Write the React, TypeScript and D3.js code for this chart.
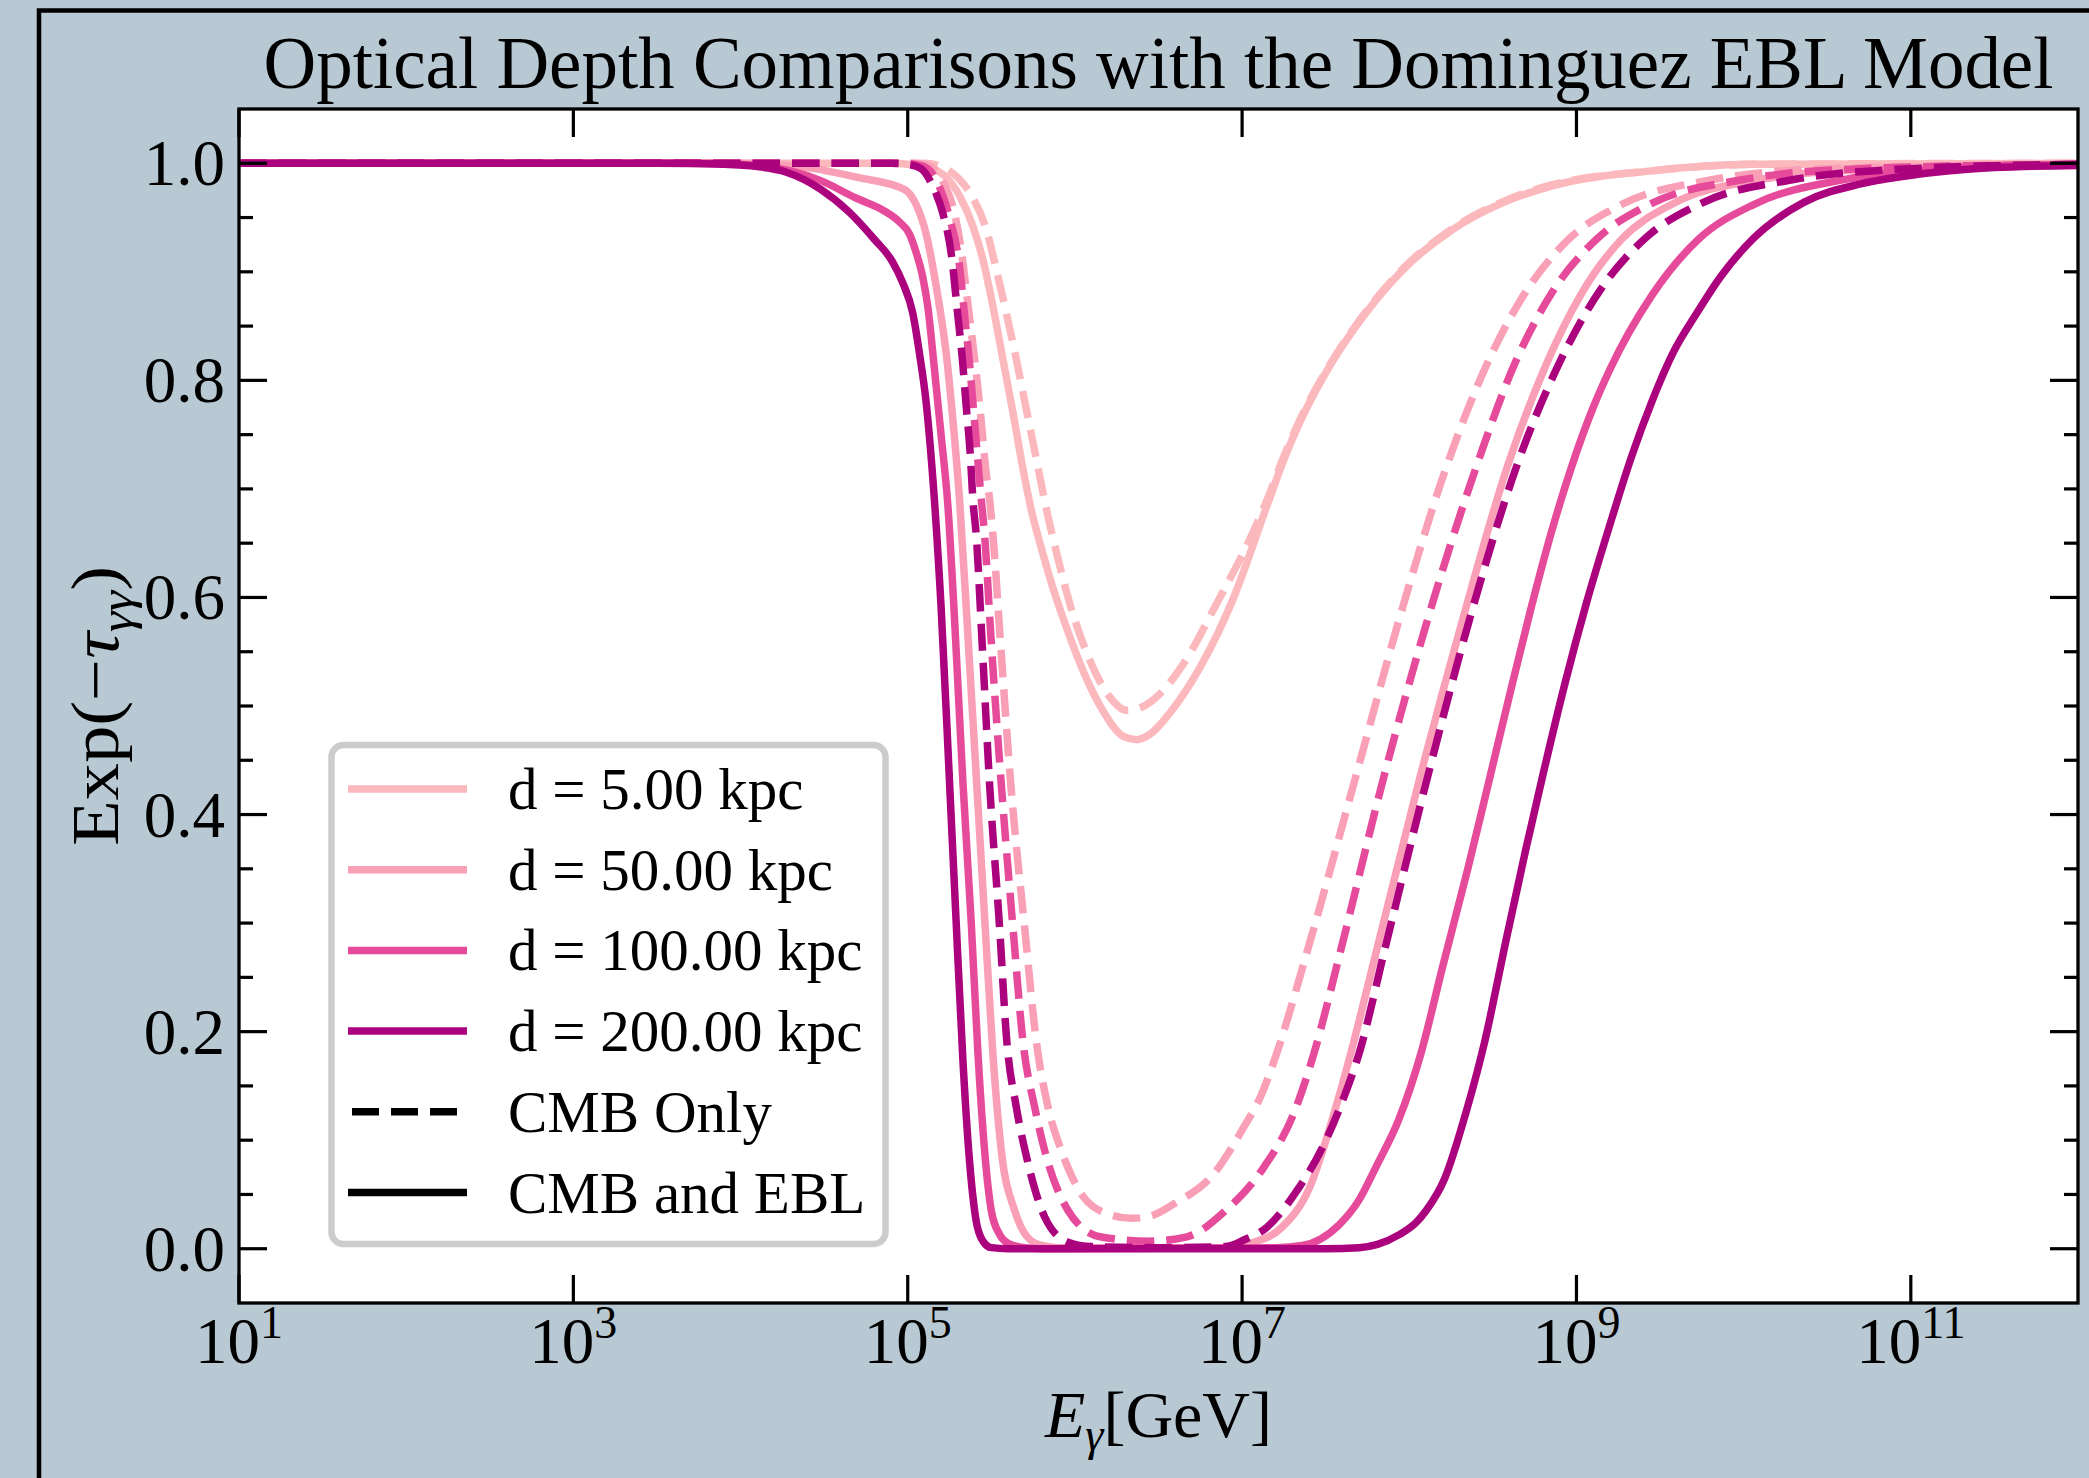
import * as d3 from 'd3';
import React, { useEffect, useRef } from 'react';

const distances = [5, 50, 100, 200];
const seriesColors = ["#fbb9be", "#f99fb6", "#e64b9b", "#ab027e"];

// [log10(E / GeV), exp(-tau)]: CMB + EBL (solid lines)
const eblD5 = [
    [1, 1], [4.9, 1], [5.05, 0.998], [5.15, 0.995], [5.23, 0.987], [5.31, 0.97], [5.39, 0.942],
    [5.45, 0.911], [5.51, 0.868], [5.57, 0.819], [5.63, 0.77], [5.69, 0.718], [5.74, 0.68],
    [5.8, 0.645], [5.85, 0.618], [5.95, 0.572], [6.05, 0.532], [6.17, 0.495], [6.29, 0.472],
    [6.37, 0.469], [6.45, 0.474], [6.57, 0.494], [6.75, 0.536], [6.95, 0.6], [7.15, 0.685],
    [7.25, 0.727], [7.35, 0.763], [7.5, 0.807], [7.65, 0.843], [7.95, 0.9], [8.25, 0.938],
    [8.55, 0.963], [8.85, 0.979], [9.45, 0.993], [10.05, 0.999], [12, 1]
];
const eblD50 = [
    [1, 1], [4.0, 1], [4.4, 0.996], [4.7, 0.987], [4.98, 0.976], [5.05, 0.962], [5.11, 0.935],
    [5.17, 0.887], [5.23, 0.825], [5.27, 0.764], [5.31, 0.69], [5.36, 0.565], [5.41, 0.435],
    [5.46, 0.305], [5.51, 0.178], [5.56, 0.09], [5.64, 0.035], [5.72, 0.01], [5.8, 0.003],
    [5.9, 0.001], [6.9, 0.001], [7.05, 0.005], [7.24, 0.02], [7.4, 0.055], [7.56, 0.13],
    [7.65, 0.18], [7.8, 0.272], [8.06, 0.432], [8.32, 0.58], [8.59, 0.722], [8.82, 0.815],
    [9.03, 0.88], [9.27, 0.93], [9.58, 0.963], [10.1, 0.985], [10.8, 0.995], [12, 0.999]
];
const eblD100 = [
    [1, 1], [3.8, 1], [4.1, 0.998], [4.3, 0.993], [4.48, 0.984], [4.69, 0.968], [4.85, 0.957],
    [4.95, 0.946], [5.01, 0.935], [5.05, 0.918], [5.09, 0.895], [5.12, 0.868], [5.16, 0.81],
    [5.2, 0.749], [5.24, 0.685], [5.28, 0.58], [5.33, 0.43], [5.38, 0.3], [5.42, 0.18],
    [5.46, 0.09], [5.5, 0.035], [5.55, 0.013], [5.6, 0.005], [5.7, 0.001], [5.8, 0],
    [7.2, 0.001], [7.36, 0.003], [7.47, 0.009], [7.58, 0.022], [7.7, 0.045], [7.8, 0.075],
    [7.94, 0.12], [8.07, 0.18], [8.2, 0.26], [8.35, 0.35], [8.46, 0.42], [8.6, 0.51],
    [8.72, 0.585], [8.85, 0.66], [8.97, 0.72], [9.1, 0.775], [9.2, 0.81], [9.45, 0.878],
    [9.73, 0.93], [10.06, 0.962], [10.6, 0.985], [11.2, 0.995], [12, 0.999]
];
const eblD200 = [
    [1, 1], [3.5, 1], [3.9, 0.999], [4.1, 0.997], [4.27, 0.992], [4.48, 0.976], [4.65, 0.955],
    [4.8, 0.93], [4.91, 0.909], [4.97, 0.89], [5.03, 0.862], [5.07, 0.825], [5.11, 0.78],
    [5.15, 0.71], [5.2, 0.59], [5.25, 0.43], [5.29, 0.3], [5.33, 0.174], [5.37, 0.08],
    [5.41, 0.025], [5.45, 0.007], [5.5, 0.001], [5.6, 0], [7.5, 0], [7.7, 0.001], [7.81, 0.004],
    [7.94, 0.013], [8.04, 0.024], [8.1, 0.035], [8.21, 0.064], [8.34, 0.126], [8.45, 0.19],
    [8.58, 0.285], [8.7, 0.37], [8.8, 0.437], [8.93, 0.52], [9.06, 0.595], [9.2, 0.667],
    [9.33, 0.73], [9.45, 0.78], [9.58, 0.826], [9.72, 0.862], [9.86, 0.895], [10.06, 0.931],
    [10.36, 0.964], [10.7, 0.981], [10.96, 0.988], [11.5, 0.996], [12, 0.998]
];

// CMB only (dashed lines)
const cmbD5 = [
    [1, 1], [5.1, 1], [5.2, 0.997], [5.25, 0.993], [5.31, 0.985], [5.39, 0.968], [5.47, 0.939],
    [5.53, 0.902], [5.59, 0.862], [5.65, 0.819], [5.71, 0.773], [5.77, 0.727], [5.83, 0.681],
    [5.9, 0.635], [5.97, 0.594], [6.09, 0.542], [6.21, 0.508], [6.31, 0.496], [6.4, 0.499],
    [6.5, 0.51], [6.65, 0.539], [6.85, 0.595], [7.05, 0.655], [7.15, 0.69], [7.25, 0.73],
    [7.35, 0.765], [7.5, 0.808], [7.65, 0.844], [7.95, 0.901], [8.25, 0.939], [8.55, 0.964],
    [8.85, 0.98], [9.45, 0.993], [10.05, 0.999], [12, 1]
];
const cmbD50 = [
    [1, 1], [5.0, 1], [5.1, 0.999], [5.17, 0.993], [5.22, 0.98], [5.27, 0.96], [5.32, 0.92],
    [5.36, 0.87], [5.4, 0.82], [5.435, 0.77], [5.465, 0.72], [5.49, 0.69], [5.51, 0.657],
    [5.555, 0.558], [5.617, 0.427], [5.7, 0.295], [5.77, 0.19], [5.84, 0.13], [5.92, 0.09],
    [6.05, 0.048], [6.2, 0.032], [6.34, 0.028], [6.45, 0.03], [6.6, 0.042], [6.83, 0.069],
    [7.01, 0.112], [7.11, 0.14], [7.18, 0.168], [7.41, 0.285], [7.68, 0.435], [7.94, 0.58],
    [8.21, 0.715], [8.45, 0.81], [8.67, 0.875], [8.94, 0.928], [9.27, 0.962], [9.82, 0.985],
    [10.5, 0.995], [12, 0.999]
];
const cmbD100 = [
    [1, 1], [4.95, 1], [5.05, 0.999], [5.12, 0.995], [5.17, 0.985], [5.21, 0.97], [5.25, 0.95],
    [5.31, 0.905], [5.34, 0.86], [5.37, 0.815], [5.395, 0.77], [5.42, 0.725], [5.44, 0.69],
    [5.46, 0.657], [5.5, 0.558], [5.56, 0.427], [5.63, 0.295], [5.69, 0.19], [5.76, 0.13],
    [5.82, 0.09], [5.96, 0.035], [6.15, 0.011], [6.44, 0.007], [6.67, 0.011], [6.9, 0.035],
    [7.13, 0.075], [7.31, 0.125], [7.43, 0.18], [7.59, 0.275], [7.84, 0.43], [8.12, 0.585],
    [8.4, 0.72], [8.63, 0.815], [8.85, 0.88], [9.12, 0.93], [9.45, 0.963], [10.0, 0.985],
    [10.7, 0.995], [12, 0.999]
];
const cmbD200 = [
    [1, 1], [4.9, 1], [5.0, 0.999], [5.08, 0.995], [5.13, 0.985], [5.17, 0.972], [5.21, 0.954],
    [5.266, 0.91], [5.296, 0.865], [5.326, 0.821], [5.35, 0.776], [5.374, 0.732], [5.39, 0.69],
    [5.41, 0.657], [5.445, 0.558], [5.49, 0.427], [5.55, 0.295], [5.59, 0.196], [5.65, 0.13],
    [5.71, 0.085], [5.82, 0.029], [5.96, 0.006], [6.1, 0.002], [6.5, 0.001], [6.9, 0.002],
    [7.01, 0.008], [7.15, 0.02], [7.33, 0.054], [7.47, 0.09], [7.61, 0.14], [7.7, 0.18],
    [7.86, 0.28], [8.11, 0.435], [8.37, 0.585], [8.64, 0.72], [8.91, 0.82], [9.15, 0.885],
    [9.42, 0.932], [9.76, 0.964], [10.3, 0.985], [11.0, 0.995], [12, 0.999]
];

const eblSeries = [eblD5, eblD50, eblD100, eblD200];
const cmbSeries = [cmbD5, cmbD50, cmbD100, cmbD200];

const xTickPowers = [1, 3, 5, 7, 9, 11];
const yTickValues = [0, 0.2, 0.4, 0.6, 0.8, 1.0];

const W = 2089;
const H = 1478;
const margin = { top: 109, right: 11, bottom: 175, left: 239 };
const serif = "'Liberation Serif', 'Times New Roman', serif";

const OpticalDepthChart = () => {
    const chartRef = useRef(null);

    useEffect(() => {
        const svg = d3.select(chartRef.current);
        svg.selectAll("*").remove();

        const width = W - margin.left - margin.right;
        const height = H - margin.top - margin.bottom;

        svg.append("rect").attr("width", W).attr("height", H).attr("fill", "#b9c9d3");

        // figure frame, cut off on the right and bottom
        svg.append("path")
            .attr("d", `M39,${H + 5} L39,10.5 L${W + 5},10.5`)
            .attr("fill", "none")
            .attr("stroke", "#000")
            .attr("stroke-width", 4.5);

        const g = svg.append("g").attr("transform", `translate(${margin.left},${margin.top})`);
        g.append("rect").attr("width", width).attr("height", height).attr("fill", "#fff");

        const x = d3.scaleLog().domain([1e1, 1e12]).range([0, width]);
        const y = d3.scaleLinear().domain([-0.05, 1.05]).range([height, 0]);

        g.append("clipPath").attr("id", "plot-clip")
            .append("rect").attr("width", width).attr("height", height);

        const line = d3.line()
            .x(d => x(Math.pow(10, d[0])))
            .y(d => y(d[1]))
            .curve(d3.curveMonotoneX);

        const curves = g.append("g").attr("clip-path", "url(#plot-clip)");
        distances.forEach((dist, i) => {
            curves.append("path")
                .datum(eblSeries[i])
                .attr("d", line)
                .attr("fill", "none")
                .attr("stroke", seriesColors[i])
                .attr("stroke-width", 7.5)
                .attr("stroke-linejoin", "round");
            curves.append("path")
                .datum(cmbSeries[i])
                .attr("d", line)
                .attr("fill", "none")
                .attr("stroke", seriesColors[i])
                .attr("stroke-width", 7.5)
                .attr("stroke-linejoin", "round")
                .attr("stroke-dasharray", "27.5,12");
        });

        // ticks point inward on all four sides
        const majorLen = 28;
        const minorLen = 14;
        const tickW = 3.2;
        const ticks = g.append("g").attr("stroke", "#000").attr("stroke-width", tickW);
        xTickPowers.forEach(p => {
            const tx = x(Math.pow(10, p));
            ticks.append("line").attr("x1", tx).attr("x2", tx).attr("y1", height).attr("y2", height - majorLen);
            ticks.append("line").attr("x1", tx).attr("x2", tx).attr("y1", 0).attr("y2", majorLen);
        });
        const yMinor = d3.range(1, 21).map(k => k * 0.05).filter(v => Math.abs(v * 5 - Math.round(v * 5)) > 1e-6);
        yTickValues.forEach(v => {
            ticks.append("line").attr("x1", 0).attr("x2", majorLen).attr("y1", y(v)).attr("y2", y(v));
            ticks.append("line").attr("x1", width).attr("x2", width - majorLen).attr("y1", y(v)).attr("y2", y(v));
        });
        yMinor.forEach(v => {
            ticks.append("line").attr("x1", 0).attr("x2", minorLen).attr("y1", y(v)).attr("y2", y(v));
            ticks.append("line").attr("x1", width).attr("x2", width - minorLen).attr("y1", y(v)).attr("y2", y(v));
        });

        g.append("rect")
            .attr("width", width)
            .attr("height", height)
            .attr("fill", "none")
            .attr("stroke", "#000")
            .attr("stroke-width", 3.3);

        // tick labels
        g.selectAll("text.ylab")
            .data(yTickValues)
            .join("text")
            .attr("class", "ylab")
            .attr("x", -14)
            .attr("y", d => y(d) + 22)
            .attr("text-anchor", "end")
            .attr("font-family", serif)
            .attr("font-size", 65)
            .text(d => d.toFixed(1));

        const xl = g.selectAll("text.xlab")
            .data(xTickPowers)
            .join("text")
            .attr("class", "xlab")
            .attr("x", d => x(Math.pow(10, d)))
            .attr("y", height + 60)
            .attr("text-anchor", "middle")
            .attr("font-family", serif)
            .attr("font-size", 65);
        xl.append("tspan").text("10");
        xl.append("tspan").attr("font-size", 46).attr("dy", -25).text(d => d);

        // title
        svg.append("text")
            .attr("x", margin.left + width / 2)
            .attr("y", 88)
            .attr("text-anchor", "middle")
            .attr("font-family", serif)
            .attr("font-size", 73)
            .attr("textLength", 1790)
            .attr("lengthAdjust", "spacingAndGlyphs")
            .text("Optical Depth Comparisons with the Dominguez EBL Model");

        // x label
        const xlabel = svg.append("text")
            .attr("x", margin.left + width / 2)
            .attr("y", 1437)
            .attr("text-anchor", "middle")
            .attr("font-family", serif)
            .attr("font-size", 66);
        xlabel.append("tspan").attr("font-style", "italic").text("E");
        xlabel.append("tspan").attr("font-style", "italic").attr("font-size", 46).attr("dy", 13).text("γ");
        xlabel.append("tspan").attr("dy", -13).text("[GeV]");

        // y label
        const ylabel = svg.append("text")
            .attr("transform", `translate(118,${margin.top + height / 2}) rotate(-90)`)
            .attr("text-anchor", "middle")
            .attr("font-family", serif)
            .attr("font-size", 67)
            .attr("textLength", 280)
            .attr("lengthAdjust", "spacingAndGlyphs");
        ylabel.append("tspan").text("Exp(−");
        ylabel.append("tspan").attr("font-style", "italic").text("τ");
        ylabel.append("tspan").attr("font-style", "italic").attr("font-size", 47).attr("dy", 14).text("γγ");
        ylabel.append("tspan").attr("dy", -14).text(")");

        // legend
        const legend = svg.append("g");
        legend.append("rect")
            .attr("x", 331.5)
            .attr("y", 745)
            .attr("width", 554)
            .attr("height", 499)
            .attr("rx", 12)
            .attr("fill", "#fff")
            .attr("stroke", "#cccccc")
            .attr("stroke-width", 6.5);

        const legendItems = [
            ...distances.map((d, i) => ({ label: `d = ${d.toFixed(2)} kpc`, color: seriesColors[i], dashed: false })),
            { label: "CMB Only", color: "#000", dashed: true },
            { label: "CMB and EBL", color: "#000", dashed: false }
        ];
        legendItems.forEach((item, i) => {
            const cy = 789 + i * 80.7;
            legend.append("line")
                .attr("x1", item.dashed ? 352 : 348)
                .attr("x2", item.dashed ? 458 : 467)
                .attr("y1", cy)
                .attr("y2", cy)
                .attr("stroke", item.color)
                .attr("stroke-width", 7.5)
                .attr("stroke-dasharray", item.dashed ? "27,12" : null);
            legend.append("text")
                .attr("x", 508)
                .attr("y", cy + 20)
                .attr("font-family", serif)
                .attr("font-size", 59)
                .text(item.label);
        });
    }, []);

    return (
        <svg
            ref={chartRef}
            width={W}
            height={H}
            style={{ position: "absolute", left: 0, top: 0, display: "block" }}
        />
    );
};

export default function App() {
    return <OpticalDepthChart />;
}
